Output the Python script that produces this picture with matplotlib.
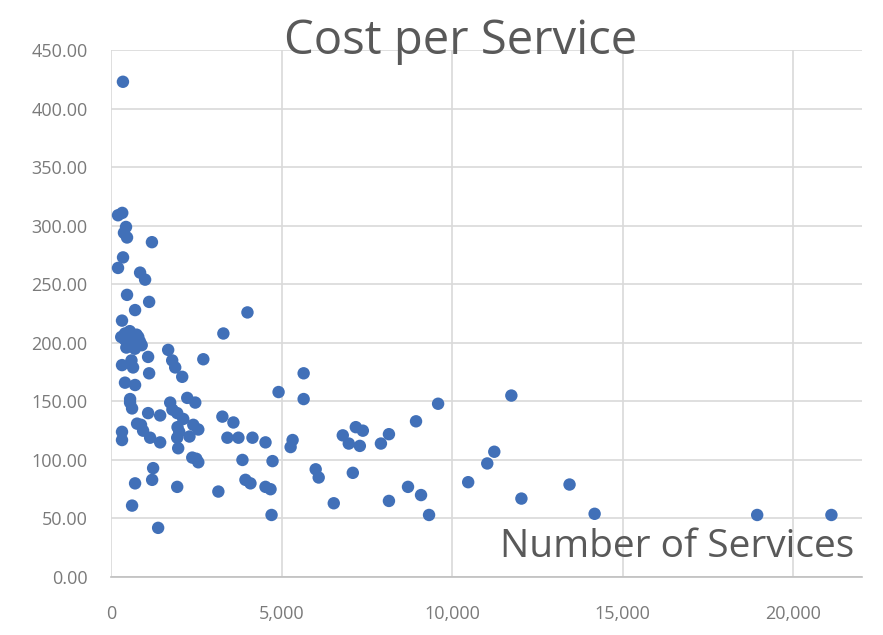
import matplotlib
matplotlib.use('Agg')
import matplotlib.pyplot as plt
from matplotlib.ticker import FuncFormatter

# Number of services (x) and cost per service (y)
services = [350, 206, 330, 440, 380, 470, 1200, 353, 206, 853, 1000, 470, 1118, 706,
            4000, 323, 3294, 410, 300, 500, 650, 800, 900, 450, 700, 1676, 2706, 1088,
            323, 647, 1794, 1882, 1118, 2088, 410, 706, 4912, 2235, 2470, 559, 618,
            1735, 1088, 1441, 1941, 3265, 3588, 2118, 2412, 2559, 765, 941, 323, 323,
            1147, 1441, 1941, 1970, 3412, 3735, 4147, 4529, 5323, 2382, 2559, 3853,
            4735, 1235, 1206, 706, 3941, 4088, 1941, 3147, 4529, 4676, 618, 4706, 1382,
            5647, 5647, 9588, 11735, 8941, 5265, 6794, 6970, 7176, 7382, 7294, 7912,
            8147, 6000, 6088, 7088, 6530, 8147, 8706, 9088, 9323, 11029, 11235, 10470,
            12030, 13441, 14176, 18941, 21117,
            550, 600, 750, 850, 400, 560, 880, 1800, 1950, 2000, 2300, 2500]
cost = [423, 309, 311, 299, 294, 290, 286, 273, 264, 260, 254, 241, 235, 228,
        226, 219, 208, 208, 205, 203, 200, 205, 198, 196, 195, 194, 186, 188,
        181, 179, 185, 179, 174, 171, 166, 164, 158, 153, 149, 149, 144,
        149, 140, 138, 140, 137, 132, 135, 130, 126, 131, 125, 124, 117,
        119, 115, 119, 110, 119, 119, 119, 115, 117, 102, 98, 100,
        99, 93, 83, 80, 83, 80, 77, 73, 77, 75, 61, 53, 42,
        174, 152, 148, 155, 133, 111, 121, 114, 128, 125, 112, 114,
        122, 92, 85, 89, 63, 65, 77, 70, 53, 97, 107, 81,
        67, 79, 54, 53, 53,
        210, 185, 207, 201, 203, 152, 130, 143, 128, 124, 120, 101]

x_ticks = [0, 5000, 10000, 15000, 20000]
y_ticks = [0, 50, 100, 150, 200, 250, 300, 350, 400, 450]

plt.rcParams['font.family'] = ['Open Sans', 'DejaVu Sans']

fig = plt.figure(figsize=(8.83, 6.35), dpi=100)
ax = fig.add_axes([0.1257, 0.0913, 0.85, 0.8297])

ax.scatter(services, cost, s=80, color='#4170b8', edgecolors='none', zorder=3)

ax.set_xlim(0, 22000)
ax.set_ylim(0, 450)
ax.set_xticks(x_ticks)
ax.set_yticks(y_ticks)
ax.xaxis.set_major_formatter(FuncFormatter(lambda v, p: f'{int(v):,}'))
ax.yaxis.set_major_formatter(FuncFormatter(lambda v, p: f'{v:.2f}'))
ax.tick_params(length=0, labelsize=13, labelcolor='#7a7a7a')
ax.tick_params(axis='y', pad=17)
ax.tick_params(axis='x', pad=20)
ax.grid(color='#d9d9d9', linewidth=1.2)
ax.set_axisbelow(True)
for side in ['top', 'right', 'left']:
    ax.spines[side].set_visible(False)
ax.spines['bottom'].set_color('#bfbfbf')
ax.spines['bottom'].set_linewidth(1.2)

fig.text(0.522, 0.935, 'Cost per Service', ha='center', va='center',
         fontsize=34, color='#595959')
ax.text(0.99, 0.02, 'Number of Services', transform=ax.transAxes,
        ha='right', va='bottom', fontsize=28, color='#595959', zorder=4)

fig.savefig('out.png', dpi=100)
